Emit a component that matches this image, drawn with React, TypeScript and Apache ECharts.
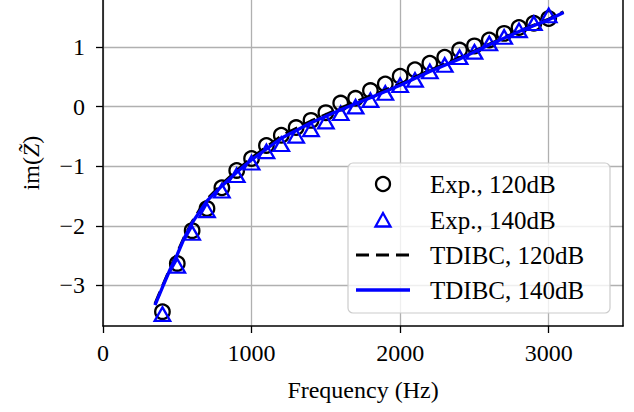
import React, { useEffect, useRef } from "react";
import * as echarts from "echarts";

const freqs = [400, 500, 600, 700, 800, 900, 1000, 1100, 1200, 1300, 1400, 1500, 1600, 1700, 1800, 1900, 2000, 2100, 2200, 2300, 2400, 2500, 2600, 2700, 2800, 2900, 3000];
const exp120 = [-3.44, -2.63, -2.08, -1.71, -1.36, -1.07, -0.87, -0.65, -0.48, -0.35, -0.23, -0.10, 0.06, 0.14, 0.27, 0.38, 0.51, 0.62, 0.73, 0.83, 0.95, 1.02, 1.12, 1.23, 1.33, 1.40, 1.48];
const exp140 = [-3.48, -2.67, -2.12, -1.74, -1.41, -1.15, -0.94, -0.75, -0.63, -0.49, -0.38, -0.25, -0.11, 0.00, 0.11, 0.23, 0.36, 0.45, 0.59, 0.70, 0.83, 0.92, 1.06, 1.17, 1.28, 1.40, 1.53];

const modelFreqs = [350, 400, 450, 500, 550, 600, 650, 700, 800, 900, 1000, 1200, 1400, 1600, 1800, 2000, 2200, 2400, 2600, 2800, 3000, 3100];
const tdibc120 = [-3.31, -3.01, -2.72, -2.45, -2.17, -1.93, -1.73, -1.55, -1.30, -1.07, -0.86, -0.49, -0.24, -0.02, 0.18, 0.38, 0.61, 0.82, 1.05, 1.27, 1.47, 1.59];
const tdibc140 = [-3.33, -3.03, -2.74, -2.48, -2.19, -1.95, -1.76, -1.58, -1.33, -1.10, -0.89, -0.53, -0.27, -0.05, 0.15, 0.36, 0.59, 0.80, 1.04, 1.26, 1.46, 1.58];

const xTicks = [0, 1000, 2000, 3000];
const yTicks = [-3, -2, -1, 0, 1];
const legendLabels = ["Exp., 120dB", "Exp., 140dB", "TDIBC, 120dB", "TDIBC, 140dB"];

const FONT = "Liberation Serif";
const BLUE = "#0000ff";

export default function App() {
  const ref = useRef<HTMLDivElement>(null);
  useEffect(() => {
    if (!ref.current) return;
    const chart = echarts.init(ref.current, null, { renderer: "svg" });
    const pair = (xs: number[], ys: number[]) => xs.map((x, i) => [x, ys[i]]);
    const yMin = -3.68;
    const yMax = 1.79;
    const rowY = [184, 220, 255, 290];
    const Z = 100;
    chart.setOption({
      animation: false,
      backgroundColor: "#ffffff",
      grid: { left: 103, right: 11, top: 0, bottom: 86, containLabel: false, outerBoundsMode: "none" },
      xAxis: {
        type: "value",
        min: 0,
        max: 3500,
        axisLine: { show: true, onZero: false, lineStyle: { color: "#000", width: 1.5 } },
        axisTick: { show: true, length: 7, lineStyle: { color: "#000", width: 1.3 }, customValues: xTicks },
        axisLabel: {
          customValues: xTicks,
          color: "#000",
          fontFamily: FONT,
          fontSize: 24,
          margin: 15,
          formatter: (v: number) => String(v),
        },
        splitLine: { show: true, lineStyle: { color: "#b0b0b0", width: 1.3 } },
      },
      yAxis: [
        {
          type: "value",
          min: yMin,
          max: yMax,
          axisLine: { show: true, onZero: false, lineStyle: { color: "#000", width: 1.5 } },
          axisTick: { show: true, length: 7, lineStyle: { color: "#000", width: 1.3 }, customValues: yTicks },
          axisLabel: {
            customValues: yTicks,
            color: "#000",
            fontFamily: FONT,
            fontSize: 24,
            margin: 18,
            formatter: (v: number) => String(v).replace("-", "\u2212"),
          },
          splitLine: { show: true, lineStyle: { color: "#b0b0b0", width: 1.3 } },
        },
        {
          type: "value",
          position: "right",
          min: yMin,
          max: yMax,
          axisLine: { show: true, onZero: false, lineStyle: { color: "#000", width: 1.5 } },
          axisTick: { show: false },
          axisLabel: { show: false },
          splitLine: { show: false },
        },
      ],
      series: [
        {
          type: "scatter",
          data: pair(freqs, exp120),
          symbol: "circle",
          symbolSize: 14.5,
          itemStyle: { color: "rgba(0,0,0,0)", borderColor: "#000", borderWidth: 2.3, opacity: 1 },
          z: 2,
        },
        {
          type: "scatter",
          data: pair(freqs, exp140),
          symbol: "triangle",
          symbolSize: [15.5, 13.5],
          itemStyle: { color: "rgba(0,0,0,0)", borderColor: BLUE, borderWidth: 2.3, opacity: 1 },
          z: 3,
        },
        {
          type: "line",
          data: pair(modelFreqs, tdibc120),
          showSymbol: false,
          symbol: "none",
          lineStyle: { color: "#000", width: 3, type: [13, 7] },
          z: 4,
        },
        {
          type: "line",
          data: pair(modelFreqs, tdibc140),
          showSymbol: false,
          symbol: "none",
          lineStyle: { color: BLUE, width: 3.3 },
          z: 5,
        },
      ],
      graphic: [
        {
          type: "text",
          x: 363,
          y: 390,
          style: { text: "Frequency (Hz)", font: `24px '${FONT}'`, fill: "#000", align: "center", verticalAlign: "middle" },
        },
        {
          type: "text",
          x: 31,
          y: 163,
          rotation: Math.PI / 2,
          style: {
            text: "im({z|Z\u0303})",
            font: `24px '${FONT}'`,
            fill: "#000",
            align: "center",
            verticalAlign: "middle",
            rich: { z: { fontFamily: FONT, fontSize: 24, fontStyle: "italic" } },
          },
        },
        {
          type: "rect",
          z: Z,
          shape: { x: 348, y: 163, width: 262, height: 150, r: 5 },
          style: { fill: "rgba(255,255,255,0.8)", stroke: "#cccccc", lineWidth: 1.2 },
        },
        {
          type: "circle",
          z: Z + 1,
          shape: { cx: 383, cy: rowY[0], r: 7 },
          style: { fill: "none", stroke: "#000", lineWidth: 2.3 },
        },
        {
          type: "polygon",
          z: Z + 1,
          shape: { points: [[383, rowY[1] - 7], [375.5, rowY[1] + 6.5], [390.5, rowY[1] + 6.5]] },
          style: { fill: "none", stroke: BLUE, lineWidth: 2.3 },
        },
        {
          type: "line",
          z: Z + 1,
          shape: { x1: 356, y1: rowY[2], x2: 410, y2: rowY[2] },
          style: { stroke: "#000", lineWidth: 3, lineDash: [13, 7] },
        },
        {
          type: "line",
          z: Z + 1,
          shape: { x1: 356, y1: rowY[3], x2: 410, y2: rowY[3] },
          style: { stroke: BLUE, lineWidth: 3.3 },
        },
        ...legendLabels.map((t, i) => ({
          type: "text",
          z: Z + 1,
          x: 430,
          y: rowY[i],
          style: { text: t, font: `25px '${FONT}'`, fill: "#000", verticalAlign: "middle" },
        })),
      ],
    });
    return () => chart.dispose();
  }, []);
  return <div ref={ref} style={{ position: "fixed", left: 0, top: 0, width: 634, height: 412 }} />;
}
